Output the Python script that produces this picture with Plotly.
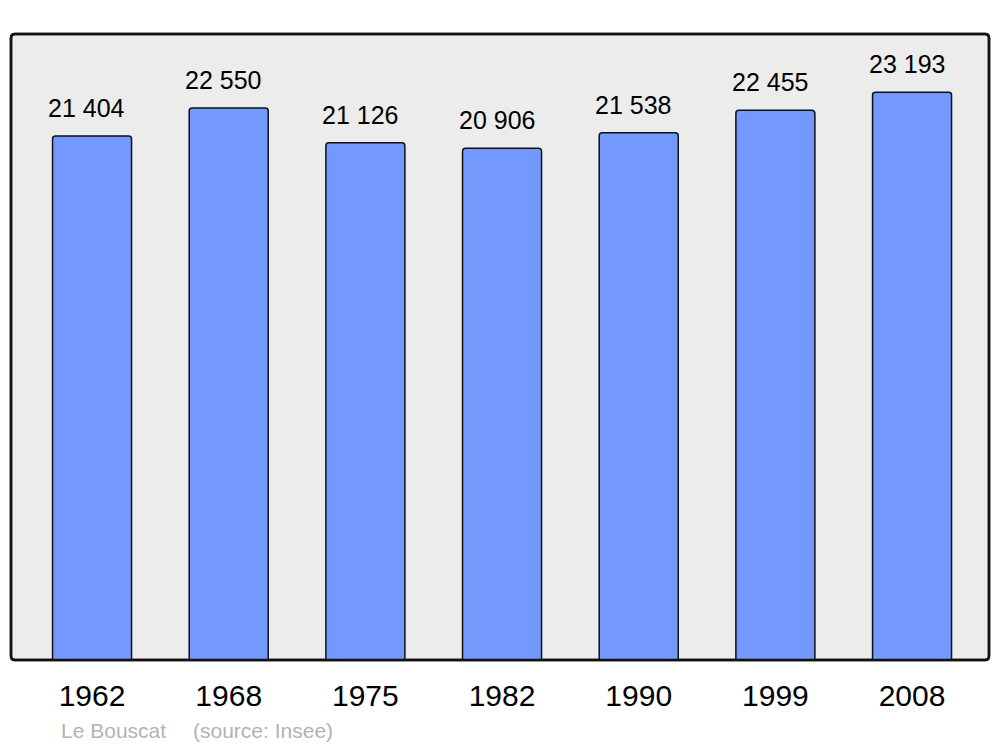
import plotly.graph_objects as go

years = ["1962", "1968", "1975", "1982", "1990", "1999", "2008"]
population = [21404, 22550, 21126, 20906, 21538, 22455, 23193]
place = "Le Bouscat"
source = "(source: Insee)"

# page has an 8px body margin; target plot frame in window pixels
OFF = 8
W, H = 1000 - OFF, 747 - OFF
L, R, T, B = 11, 989, 34, 660

FONT = "Liberation Sans, Arial, sans-serif"

fig = go.Figure()
fig.add_trace(go.Bar(
    x=years, y=population, width=0.578,
    marker=dict(color="#7399ff", line=dict(color="#111111", width=1.5), cornerradius=3),
    hoverinfo="skip",
))

for i, v in enumerate(population):
    fig.add_annotation(x=i, y=v, xref="x", yref="y", text=f"{v:,}".replace(",", " "),
                       showarrow=False, yanchor="bottom", yshift=12, xshift=-5.5,
                       font=dict(family=FONT, size=25, color="#000000"))

pw, ph = R - L, B - T
rx, ry = 4 / pw, 4 / ph
path = (f"M {rx},0 L {1-rx},0 Q 1,0 1,{ry} L 1,{1-ry} Q 1,1 {1-rx},1 "
        f"L {rx},1 Q 0,1 0,{1-ry} L 0,{ry} Q 0,0 {rx},0 Z")
fig.add_shape(type="path", path=path, xref="paper", yref="paper",
              fillcolor="#ececec", line=dict(color="#111111", width=2.5), layer="below")
fig.add_shape(type="path", path=path, xref="paper", yref="paper",
              line=dict(color="#111111", width=2.5), layer="above")

fig.add_annotation(text=place, xref="paper", yref="paper", x=(59 - L) / pw, y=-(730 - B) / ph,
                   xanchor="left", yanchor="middle", showarrow=False,
                   font=dict(family=FONT, size=21, color="#b3b3b3"))
fig.add_annotation(text=source, xref="paper", yref="paper", x=(191 - L) / pw, y=-(730 - B) / ph,
                   xanchor="left", yanchor="middle", showarrow=False,
                   font=dict(family=FONT, size=21, color="#b3b3b3"))

fig.update_layout(
    width=W, height=H,
    margin=dict(l=L - OFF, r=1000 - R, t=T - OFF, b=747 - B),
    paper_bgcolor="white", plot_bgcolor="rgba(0,0,0,0)",
    showlegend=False,
    font=dict(family=FONT, color="#000000"),
    xaxis=dict(type="category", range=[-0.593, 6.563], showgrid=False, zeroline=False,
               showline=False, ticks="", ticklabelstandoff=15,
               tickfont=dict(size=30, color="#000000")),
    yaxis=dict(range=[0, 25570], showgrid=False, zeroline=False, showline=False,
               showticklabels=False, ticks=""),
)

fig.write_html("out.html")
